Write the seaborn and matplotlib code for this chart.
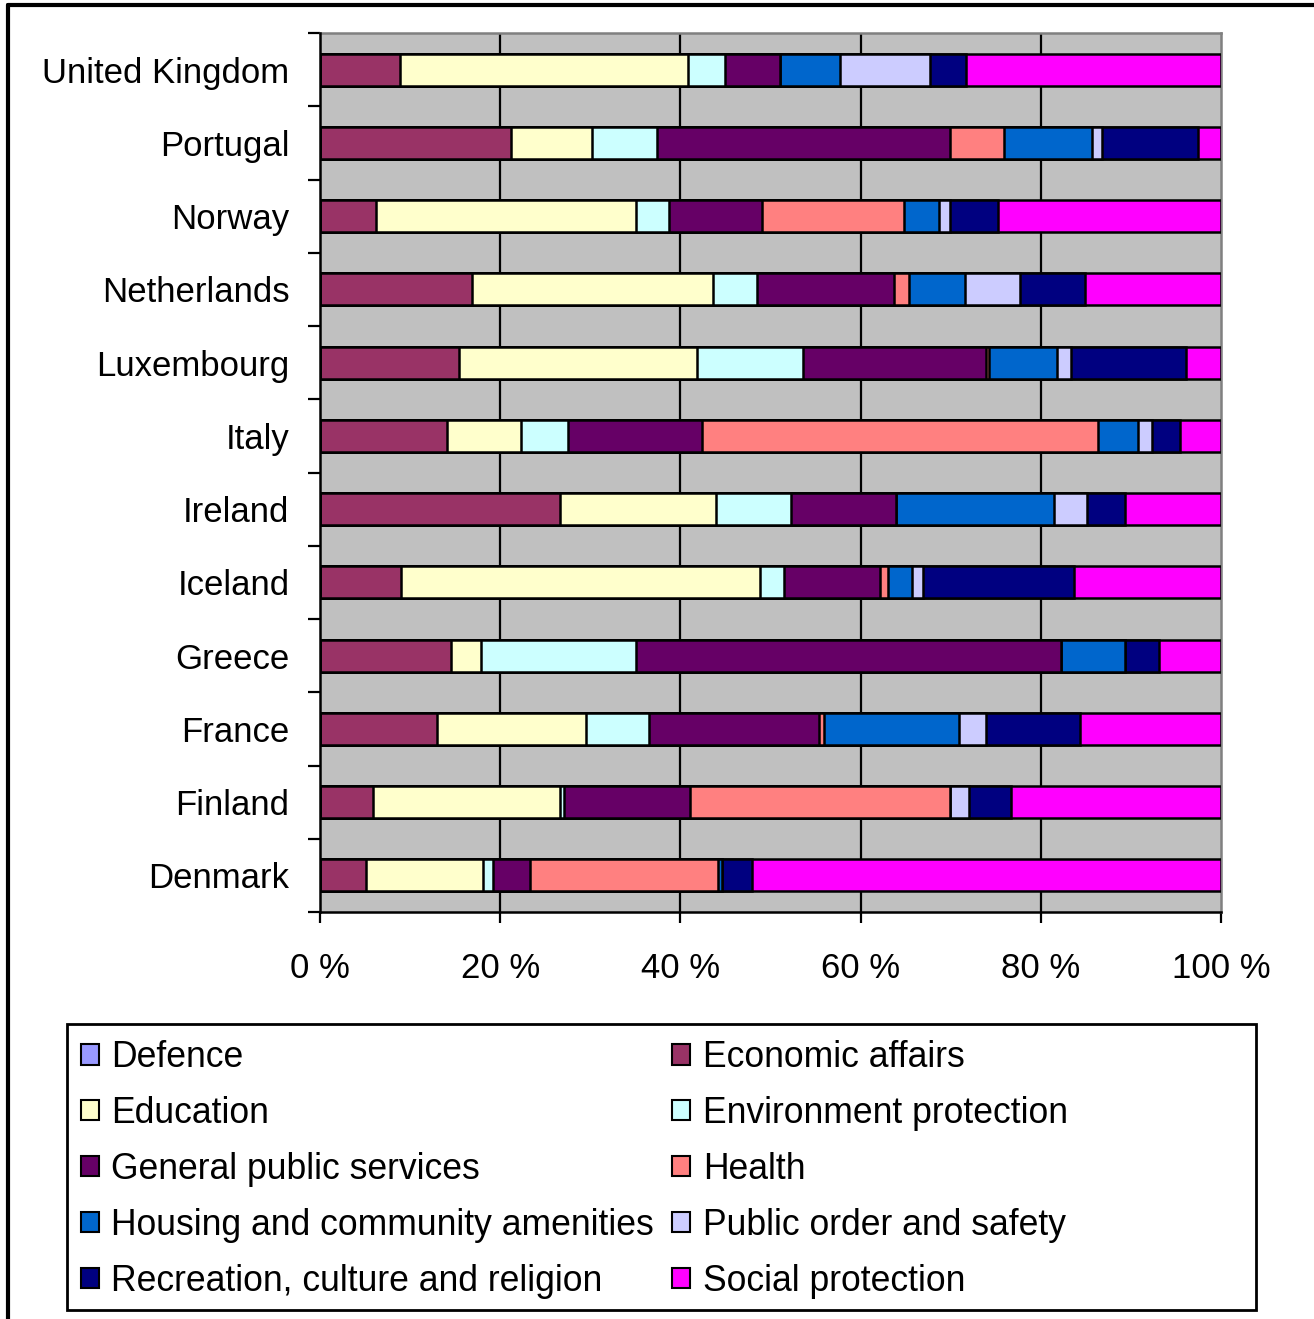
import numpy as np
import pandas as pd
import matplotlib
matplotlib.use("Agg")
import matplotlib.pyplot as plt
from matplotlib.patches import Patch, Rectangle
from matplotlib.lines import Line2D
import seaborn as sns

countries = ["United Kingdom", "Portugal", "Norway", "Netherlands", "Luxembourg",
             "Italy", "Ireland", "Iceland", "Greece", "France", "Finland", "Denmark"]

defence        = [0, 0, 0, 0, 0, 0, 0, 0, 0, 0, 0, 0]
economic       = [8.9, 21.2, 6.2, 16.9, 15.4, 14.1, 26.6, 9.0, 14.5, 13.0, 5.9, 5.1]
education      = [31.9, 9.0, 28.9, 26.7, 26.4, 8.2, 17.3, 39.8, 3.4, 16.5, 20.7, 13.0]
environment    = [4.1, 7.2, 3.6, 4.9, 11.8, 5.2, 8.4, 2.7, 17.2, 7.0, 0.5, 1.1]
general_public = [6.2, 32.5, 10.4, 15.2, 20.3, 14.9, 11.6, 10.7, 47.1, 18.9, 14.0, 4.1]
health         = [0, 6.0, 15.7, 1.7, 0.3, 43.9, 0, 0.8, 0, 0.5, 28.8, 20.9]
housing        = [6.6, 9.8, 3.9, 6.2, 7.6, 4.5, 17.6, 2.7, 7.1, 15.0, 0, 0.4]
public_order   = [10.0, 1.1, 1.2, 6.1, 1.6, 1.5, 3.6, 1.2, 0, 3.0, 2.1, 0]
recreation     = [4.0, 10.7, 5.3, 7.2, 12.7, 3.1, 4.3, 16.8, 3.8, 10.4, 4.7, 3.3]
social         = [28.3, 2.5, 24.8, 15.1, 3.9, 4.6, 10.6, 16.3, 6.9, 15.7, 23.3, 52.1]

categories = ["Defence", "Economic affairs", "Education", "Environment protection",
              "General public services", "Health", "Housing and community amenities",
              "Public order and safety", "Recreation, culture and religion",
              "Social protection"]
series = [defence, economic, education, environment, general_public, health,
          housing, public_order, recreation, social]
colors = ["#9999FF", "#993366", "#FFFFCC", "#CCFFFF", "#660066", "#FF8080",
          "#0066CC", "#CCCCFF", "#000080", "#FF00FF"]

x_ticks = [0, 20, 40, 60, 80, 100]
x_labels = ["0 %", "20 %", "40 %", "60 %", "80 %", "100 %"]

# 100 % stacked shares per country
df = pd.DataFrame(dict(zip(categories, series)), index=countries)
share = df.div(df.sum(axis=1), axis=0) * 100
cum = share.cumsum(axis=1)

sns.set_style("white")
plt.rcParams["font.family"] = ["Liberation Sans", "DejaVu Sans"]
plt.rcParams["text.color"] = "black"
plt.rcParams["xtick.color"] = "black"
plt.rcParams["ytick.color"] = "black"

W, H = 1314, 1319
fig = plt.figure(figsize=(W / 100, H / 100), dpi=100)
ax = fig.add_axes([320 / W, 1 - 912 / H, 901 / W, 879 / H])
ax.set_facecolor("#C0C0C0")

# draw cumulative bars from the outermost segment inwards
for cat, col in reversed(list(zip(categories, colors))):
    data = pd.DataFrame({"country": countries, "value": cum[cat].values})
    sns.barplot(data=data, x="value", y="country", order=countries, orient="h",
                color=col, saturation=1, width=0.44, edgecolor="black",
                linewidth=1.8, ax=ax, zorder=3)

ax.set_xlim(0, 100)
ax.set_ylim(11.5, -0.5)
ax.set_xlabel("")
ax.set_ylabel("")

# vertical gridlines
for xv in x_ticks[1:-1]:
    ax.axvline(xv, color="black", lw=1.6, zorder=1)

ax.set_xticks(x_ticks)
ax.set_xticklabels(x_labels, fontsize=25)
ax.tick_params(axis="x", direction="out", length=8, width=1.6, color="black",
               labelcolor="black", pad=21, bottom=True)
ax.set_yticks(range(len(countries)))
ax.set_yticklabels(countries, fontsize=25)
ax.tick_params(axis="y", which="major", length=0, pad=22, labelcolor="black")
ax.set_yticks(np.arange(-0.5, len(countries), 1.0), minor=True)
ax.tick_params(axis="y", which="minor", direction="out", length=9, width=1.6,
               color="black", left=True)

for side in ["top", "right"]:
    ax.spines[side].set_color("#808080")
    ax.spines[side].set_linewidth(1.8)
for side in ["left", "bottom"]:
    ax.spines[side].set_color("black")
    ax.spines[side].set_linewidth(1.8)
    ax.spines[side].set_zorder(5)

# legend box
fig.add_artist(Rectangle((67 / W, 1 - 1310 / H), 1189 / W, 286 / H,
                         transform=fig.transFigure, facecolor="white",
                         edgecolor="black", lw=2))

# legend laid out row by row in two columns
handles = [Patch(facecolor=c, edgecolor="black", linewidth=1.5, label=l)
           for l, c in zip(categories, colors)]
order = [0, 2, 4, 6, 8, 1, 3, 5, 7, 9]
leg = fig.legend([handles[i] for i in order], [categories[i] for i in order],
                 ncol=2, loc="upper left",
                 bbox_to_anchor=(81 / W, 1 - 1040 / H),
                 fontsize=25.6, frameon=False,
                 handlelength=0.5, handleheight=0.5, handletextpad=0.35,
                 labelspacing=0.59, borderpad=0, columnspacing=0.52,
                 borderaxespad=0)
for t in leg.get_texts():
    t.set_color("black")

# outer frame of the figure
fig.add_artist(Line2D([8 / W, 1], [1 - 5 / H, 1 - 5 / H],
                      transform=fig.transFigure, color="black", lw=3))
fig.add_artist(Line2D([8 / W, 8 / W], [0, 1 - 5 / H],
                      transform=fig.transFigure, color="black", lw=3))

fig.savefig("out.png", dpi=100)
